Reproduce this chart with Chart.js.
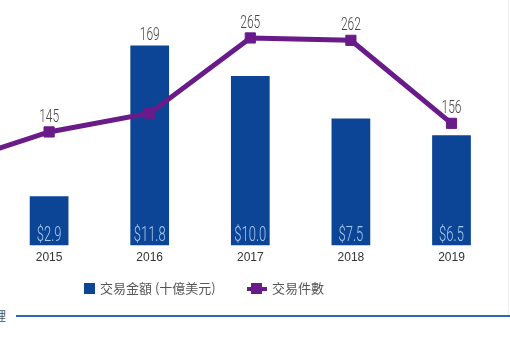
<!DOCTYPE html>
<html>
<head>
<meta charset="utf-8">
<script src="https://cdn.jsdelivr.net/npm/chart.js@4/dist/chart.umd.min.js"></script>
<style>
  html, body { margin:0; padding:0; background:#fff; width:510px; height:340px; overflow:hidden; position:relative; }
  #wrap { position:absolute; left:-110px; top:0; width:620px; height:300px; }
  .lg { position:absolute; font-family:"Noto Sans CJK TC","Noto Sans CJK SC",sans-serif; font-size:13px; color:#555; line-height:16px; white-space:nowrap; }
</style>
</head>
<body>
<div id="wrap"><canvas id="c" width="620" height="300"></canvas></div>

<div style="position:absolute;left:84px;top:283px;width:11px;height:11px;background:#0c4595;"></div>
<div class="lg" style="left:100px;top:280px;">交易金額 (十億美元)</div>
<div style="position:absolute;left:247px;top:287px;width:20px;height:4px;background:#6a1b8a;"></div>
<div style="position:absolute;left:251px;top:283px;width:11px;height:11px;background:#6a1b8a;"></div>
<div class="lg" style="left:272px;top:280px;">交易件數</div>

<div class="lg" style="left:-6px;top:308px;font-size:12px;">裡</div>
<div style="position:absolute;left:16px;top:315px;width:494px;height:2px;background:#2c6aa5;"></div>
<div style="position:absolute;left:508px;top:0px;width:1px;height:315px;background:#efefef;"></div>

<script>
const years = ['2014', '2015', '2016', '2017', '2018', '2019'];
const dealValue = [null, 2.9, 11.8, 10.0, 7.5, 6.5];      // 交易金額 (十億美元)
const dealCount = [103, 145, 169, 265, 262, 156];          // 交易件數
const seriesNames = ['交易金額 (十億美元)', '交易件數'];

const BAR_COLOR = '#0c4595';
const LINE_COLOR = '#6a1b8a';
const NUM_FONT = 'Roboto, "Liberation Sans", sans-serif';

// draws text in a light face, horizontally condensed so one digit is `digitEm` of the font size wide
function drawNarrow(ctx, text, x, y, size, color, digitEm) {
  ctx.save();
  ctx.font = '300 ' + size + 'px ' + NUM_FONT;
  const sx = (digitEm * size) / ctx.measureText('0').width;
  ctx.fillStyle = color;
  ctx.textAlign = 'center';
  ctx.textBaseline = 'alphabetic';
  ctx.translate(x, y);
  ctx.scale(sx, 1);
  ctx.fillText(text, 0, 0);
  ctx.restore();
}

const labelPlugin = {
  id: 'valueLabels',
  afterDatasetsDraw(chart) {
    const ctx = chart.ctx;
    const barMeta = chart.getDatasetMeta(0);
    const lineMeta = chart.getDatasetMeta(1);
    years.forEach((y, i) => {
      const bar = barMeta.data[i];
      const v = dealValue[i];
      if (v !== null && bar) {
        drawNarrow(ctx, '$' + v.toFixed(1), bar.x, bar.base - 4.5, 19.5, '#a8caf0', 0.37);
      }
      const pt = lineMeta.data[i];
      if (pt) {
        let yb = pt.y - 10;
        if (v !== null && bar) yb = Math.min(yb, bar.y - 5);
        drawNarrow(ctx, String(dealCount[i]), pt.x, yb, 19, '#444', 0.35);
      }
    });
  }
};

new Chart(document.getElementById('c'), {
  type: 'bar',
  data: {
    labels: years,
    datasets: [
      {
        type: 'bar',
        label: seriesNames[0],
        data: dealValue,
        backgroundColor: BAR_COLOR,
        borderWidth: 0,
        barPercentage: 1,
        categoryPercentage: 0.385,
        yAxisID: 'y',
        order: 2
      },
      {
        type: 'line',
        label: seriesNames[1],
        data: dealCount,
        borderColor: LINE_COLOR,
        backgroundColor: LINE_COLOR,
        borderWidth: 5,
        tension: 0,
        pointStyle: 'rect',
        pointRadius: 7.2,
        pointBorderWidth: 1,
        pointBorderColor: LINE_COLOR,
        pointBackgroundColor: LINE_COLOR,
        yAxisID: 'y2',
        order: 1
      }
    ]
  },
  options: {
    responsive: false,
    animation: false,
    events: [],
    layout: { padding: { top: 7, bottom: 31.1, left: 6.15, right: 2.55 } },
    plugins: { legend: { display: false }, tooltip: { enabled: false } },
    scales: {
      x: {
        offset: true,
        grid: { display: false, drawTicks: false },
        border: { display: false },
        ticks: {
          padding: 4.5,
          color: '#333',
          font: { family: '"Liberation Sans", Arial, sans-serif', size: 12 },
          maxRotation: 0,
          autoSkip: false
        }
      },
      y: { display: false, min: 0, max: 14 },
      y2: { display: false, min: 0, max: 303, position: 'right' }
    }
  },
  plugins: [labelPlugin]
});
</script>
</body>
</html>
